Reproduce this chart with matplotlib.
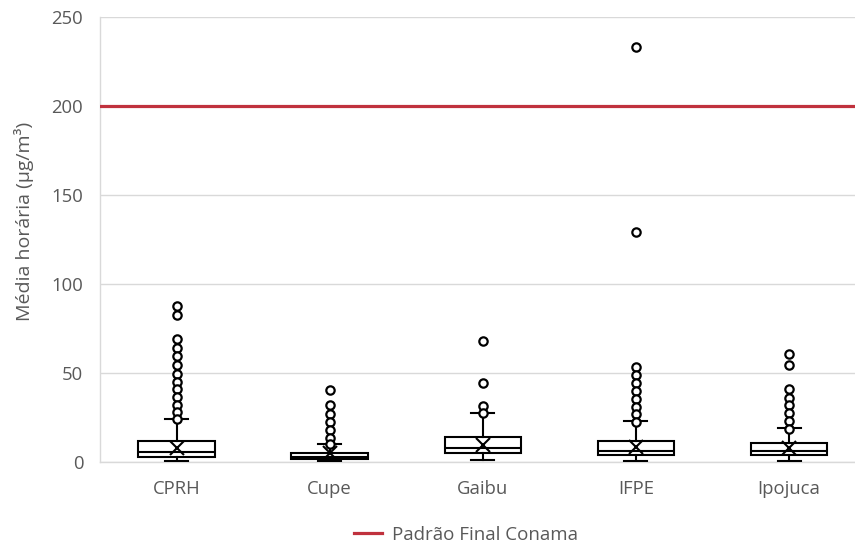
import matplotlib
matplotlib.use("Agg")
import matplotlib.pyplot as plt
from matplotlib.lines import Line2D

categories = ["CPRH", "Cupe", "Gaibu", "IFPE", "Ipojuca"]
q1 = [2.8, 1.5, 4.9, 4.1, 4.1]
median = [5.8, 3.0, 7.7, 6.3, 6.3]
q3 = [11.8, 5.2, 13.9, 11.6, 10.5]
mean = [8.0, 5.0, 9.5, 8.2, 7.7]
whisker_low = [0.5, 0.3, 1.1, 0.5, 0.5]
whisker_high = [24.3, 10.0, 27.5, 22.8, 18.9]
outliers = [
    [87.6, 82.6, 69.0, 64.0, 59.5, 54.3, 49.6, 45.0, 40.8, 36.5, 32.2, 28.0, 24.0],
    [40.3, 32.0, 27.0, 22.3, 18.0, 13.7, 10.0],
    [68.0, 44.4, 31.7, 27.7],
    [233.3, 129.4, 53.6, 48.9, 44.2, 39.9, 35.4, 31.0, 26.8, 22.5],
    [60.9, 54.5, 41.0, 36.1, 31.8, 27.3, 22.8, 18.5],
]
limit_value = 200
limit_label = "Padrão Final Conama"
y_ticks = [0, 50, 100, 150, 200, 250]
y_label = "Média horária (µg/m³)"

plt.rcParams['font.family'] = ['Open Sans', 'DejaVu Sans']
grey_text = "#595959"

fig = plt.figure(figsize=(8.55, 5.45), dpi=100)
ax = fig.add_axes([100/855, 83/545, 765.6/855, 445/545])

stats = []
for i, c in enumerate(categories):
    stats.append(dict(label=c, q1=q1[i], med=median[i], q3=q3[i], mean=mean[i],
                      whislo=whisker_low[i], whishi=whisker_high[i], fliers=outliers[i]))

ax.bxp(stats, positions=range(len(categories)), widths=0.5, showmeans=True,
       patch_artist=True, capwidths=0.15,
       boxprops=dict(facecolor="white", edgecolor="black", linewidth=1.5),
       medianprops=dict(color="black", linewidth=1.5),
       whiskerprops=dict(color="black", linewidth=1.5),
       capprops=dict(color="black", linewidth=1.5),
       meanprops=dict(marker="x", markeredgecolor="black", markersize=10, markeredgewidth=1.5),
       flierprops=dict(marker="o", markerfacecolor="white", markeredgecolor="black",
                       markersize=6, markeredgewidth=1.6),
       zorder=3)

ax.axhline(limit_value, color="#C0313D", linewidth=2.3, zorder=4)

ax.set_xlim(-0.5, len(categories) - 0.5)
ax.set_ylim(0, 250)
ax.set_yticks(y_ticks)
ax.set_xticks(range(len(categories)))
ax.set_xticklabels(categories)
ax.yaxis.grid(True, color="#D9D9D9", linewidth=1)
ax.set_axisbelow(True)
for s in ["top", "right"]:
    ax.spines[s].set_visible(False)
for s in ["left", "bottom"]:
    ax.spines[s].set_color("#D9D9D9")
    ax.spines[s].set_linewidth(1)
ax.tick_params(axis="both", length=0, colors=grey_text, labelsize=13.3)
ax.tick_params(axis="x", pad=13)
ax.tick_params(axis="y", pad=12)
ax.set_ylabel(y_label, color=grey_text, fontsize=14)
ax.yaxis.set_label_coords((34 - 100) / 765.6, 0.54)

handle = Line2D([0], [0], color="#C0313D", linewidth=2.3)
fig.legend([handle], [limit_label], loc="center", bbox_to_anchor=(466/855, 1 - 535/545),
           frameon=False, fontsize=13.5, labelcolor=grey_text, handlelength=1.5, handletextpad=0.5)

fig.savefig("out.png", dpi=100)
